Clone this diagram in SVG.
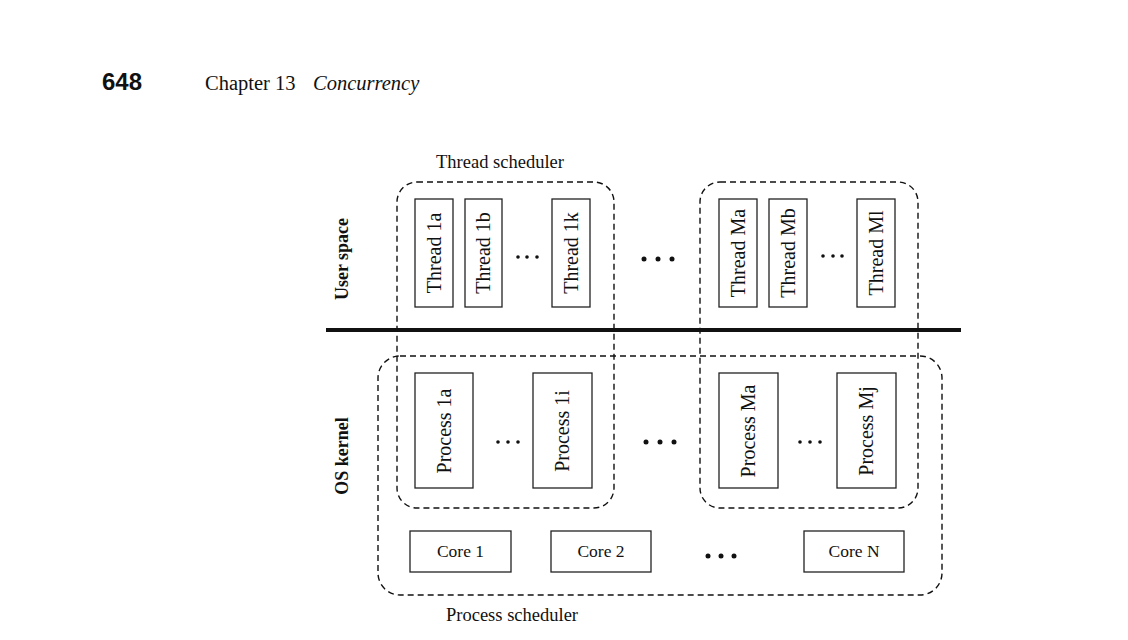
<svg xmlns="http://www.w3.org/2000/svg" width="1128" height="640" viewBox="0 0 1128 640">
<style>
.box{fill:#fff;stroke:#222;stroke-width:1.3}
.dash{fill:none;stroke:#111;stroke-width:1.4;stroke-dasharray:6 4}
.lbl{font-family:"Liberation Serif",serif;font-size:20px;fill:#111;text-anchor:middle}
.core{font-family:"Liberation Serif",serif;font-size:17.5px;fill:#111;text-anchor:middle}
.side{font-family:"Liberation Serif",serif;font-size:18px;font-weight:bold;fill:#111;text-anchor:middle}
.cap{font-family:"Liberation Serif",serif;font-size:18.5px;fill:#111}
.dot{fill:#111}
</style>
<rect width="1128" height="640" fill="#fff"/>
<g id="header">
<text x="102" y="90" font-family="Liberation Sans,sans-serif" font-size="24" font-weight="bold" fill="#111">648</text>
<text x="205" y="90" font-family="Liberation Serif,serif" font-size="20.5" fill="#111">Chapter 13<tspan x="313" font-style="italic">Concurrency</tspan></text>
</g>
<g id="separator"><line x1="326" y1="330" x2="961" y2="330" stroke="#111" stroke-width="4"/></g>
<g id="labels">
<text class="side" transform="translate(342,259) rotate(-90)" dy="6">User space</text>
<text class="side" transform="translate(342,456) rotate(-90)" dy="6">OS kernel</text>
<text class="cap" x="436" y="168">Thread scheduler</text>
<text class="cap" x="446" y="621">Process scheduler</text>
</g>
<g id="schedulers">
<rect id="thread-scheduler-1" class="dash" x="397" y="182" width="217" height="326" rx="20"/>
<rect id="thread-scheduler-M" class="dash" x="700" y="182" width="218" height="326" rx="20"/>
<rect id="process-scheduler" class="dash" x="378" y="356" width="564" height="239" rx="22"/>
</g>
<g id="thread-1a"><rect class="box" x="415" y="199" width="38" height="108"/><text class="lbl" transform="translate(434,253) rotate(-90)" dy="6.5">Thread 1a</text></g>
<g id="thread-1b"><rect class="box" x="465" y="199" width="37" height="108"/><text class="lbl" transform="translate(483.5,253) rotate(-90)" dy="6.5">Thread 1b</text></g>
<g id="thread-1k"><rect class="box" x="552" y="199" width="38" height="108"/><text class="lbl" transform="translate(571,253) rotate(-90)" dy="6.5">Thread 1k</text></g>
<g id="thread-Ma"><rect class="box" x="719" y="199" width="38" height="108"/><text class="lbl" transform="translate(738,253) rotate(-90)" dy="6.5">Thread Ma</text></g>
<g id="thread-Mb"><rect class="box" x="769" y="199" width="38" height="108"/><text class="lbl" transform="translate(788,253) rotate(-90)" dy="6.5">Thread Mb</text></g>
<g id="thread-Ml"><rect class="box" x="857" y="199" width="38" height="108"/><text class="lbl" transform="translate(876,253) rotate(-90)" dy="6.5">Thread Ml</text></g>
<g id="process-1a"><rect class="box" x="415" y="373" width="58" height="115"/><text class="lbl" transform="translate(444,431) rotate(-90)" dy="6.5">Process 1a</text></g>
<g id="process-1i"><rect class="box" x="533" y="373" width="59" height="115"/><text class="lbl" transform="translate(562.5,431) rotate(-90)" dy="6.5">Process 1i</text></g>
<g id="process-Ma"><rect class="box" x="719" y="373" width="59" height="115"/><text class="lbl" transform="translate(748.5,431) rotate(-90)" dy="6.5">Process Ma</text></g>
<g id="process-Mj"><rect class="box" x="837" y="373" width="59" height="115"/><text class="lbl" transform="translate(866.5,431) rotate(-90)" dy="6.5">Process Mj</text></g>
<g id="core-1"><rect class="box" x="410" y="531" width="101" height="41"/><text class="core" x="460.5" y="557">Core 1</text></g>
<g id="core-2"><rect class="box" x="551" y="531" width="100" height="41"/><text class="core" x="601" y="557">Core 2</text></g>
<g id="core-N"><rect class="box" x="804" y="531" width="100" height="41"/><text class="core" x="854" y="557">Core N</text></g>
<g id="ellipses">
<circle class="dot" cx="518" cy="257" r="1.8"/><circle class="dot" cx="527" cy="257" r="1.8"/><circle class="dot" cx="537" cy="257" r="1.8"/>
<circle class="dot" cx="823" cy="256" r="1.8"/><circle class="dot" cx="833" cy="256" r="1.8"/><circle class="dot" cx="842" cy="256" r="1.8"/>
<circle class="dot" cx="644" cy="259" r="2.5"/><circle class="dot" cx="658" cy="259" r="2.5"/><circle class="dot" cx="672" cy="259" r="2.5"/>
<circle class="dot" cx="498" cy="442" r="1.8"/><circle class="dot" cx="508" cy="442" r="1.8"/><circle class="dot" cx="518" cy="442" r="1.8"/>
<circle class="dot" cx="800" cy="442" r="1.8"/><circle class="dot" cx="810" cy="442" r="1.8"/><circle class="dot" cx="820" cy="442" r="1.8"/>
<circle class="dot" cx="646" cy="442" r="2.5"/><circle class="dot" cx="660" cy="442" r="2.5"/><circle class="dot" cx="674" cy="442" r="2.5"/>
<circle class="dot" cx="708" cy="556" r="2.5"/><circle class="dot" cx="721" cy="556" r="2.5"/><circle class="dot" cx="734" cy="556" r="2.5"/>
</g>
</svg>
